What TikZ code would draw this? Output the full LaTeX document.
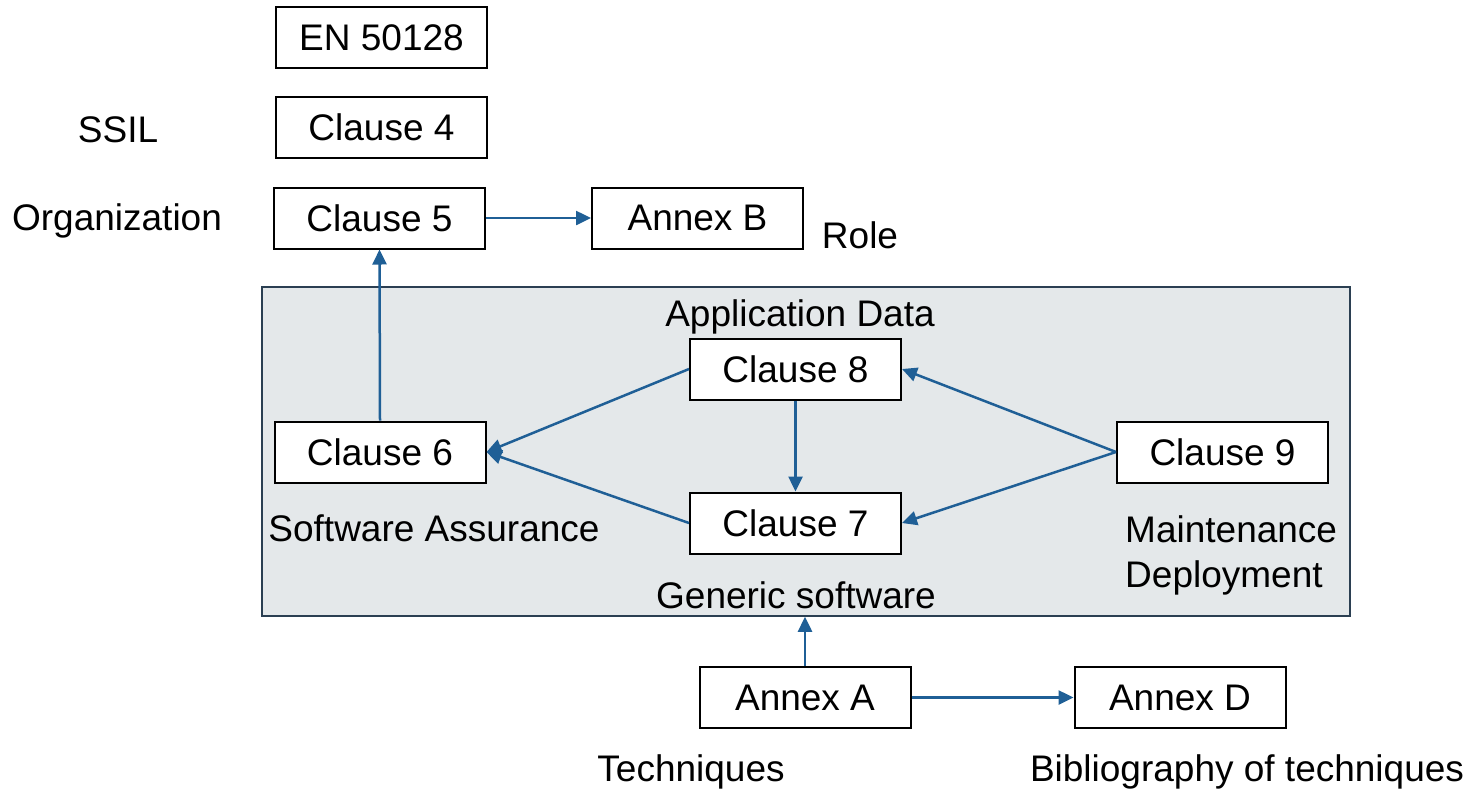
\documentclass[tikz,border=0pt]{standalone}
\usepackage{fontspec}
\setmainfont{Liberation Sans}
\usetikzlibrary{arrows.meta}
\definecolor{arrowblue}{HTML}{1F5F96}
\definecolor{panelfill}{HTML}{E4E8EA}
\definecolor{panelline}{HTML}{2B3F52}
\begin{document}
\begin{tikzpicture}[x=1pt,y=-1pt,
  every node/.style={font=\fontsize{37}{45}\selectfont, text=black},
  clausebox/.style={draw=black, line width=2pt, fill=white, minimum width=211pt, minimum height=61pt, inner sep=0pt},
  lbl/.style={inner sep=0pt},
  link/.style={draw=arrowblue, line width=2.5pt, -{Triangle[length=15pt,width=14pt]}}
]
\useasboundingbox (0,0) rectangle (1474,793);

% shaded panel for clauses 6 to 9
\node[draw=panelline, line width=1.5pt, fill=panelfill, minimum width=1088pt, minimum height=329pt, inner sep=0pt] (panel) at (806,451.5) {};

% boxes
\node[clausebox] (en) at (381.5,37.5) {EN 50128};
\node[clausebox] (c4) at (381.5,127.5) {Clause 4};
\node[clausebox] (c5) at (379.5,218) {Clause 5};
\node[clausebox] (anb) at (697.5,218) {Annex B};
\node[clausebox] (c8) at (795.5,369) {Clause 8};
\node[clausebox] (c6) at (380,452) {Clause 6};
\node[clausebox] (c9) at (1222.5,452) {Clause 9};
\node[clausebox] (c7) at (795.5,523) {Clause 7};
\node[clausebox] (ana) at (805,697.5) {Annex A};
\node[clausebox] (and) at (1180,697.5) {Annex D};

% labels
\node[lbl] (lssil) at (118,130) {SSIL};
\node[lbl] (lorg) at (117,221) {Organization};
\node[lbl] (lrole) at (860,235) {Role};
\node[lbl] (lapp) at (800,317) {Application Data};
\node[lbl] (lsa) at (434,528) {Software Assurance};
\node[lbl, anchor=west, align=left] (lmd) at (1125,555) {Maintenance\\Deployment};
\node[lbl] (lgen) at (796,595) {Generic software};
\node[lbl] (ltech) at (691,772) {Techniques};
\node[lbl] (lbib) at (1247,772) {Bibliography of techniques};

% connectors
\draw[link] (c5.east) -- (anb.west);
\draw[link] (c6.north) -- (c5.south);
\draw[link] (c8.west) -- (c6.east);
\draw[link] (c7.west) -- (c6.east);
\draw[link] (c8.south) -- (c7.north);
\draw[link] (c9.west) -- (c8.east);
\draw[link] (c9.west) -- (c7.east);
\draw[link] (ana.north) -- (ana.north |- panel.south);
\draw[link] (ana.east) -- (and.west);
\end{tikzpicture}
\end{document}
